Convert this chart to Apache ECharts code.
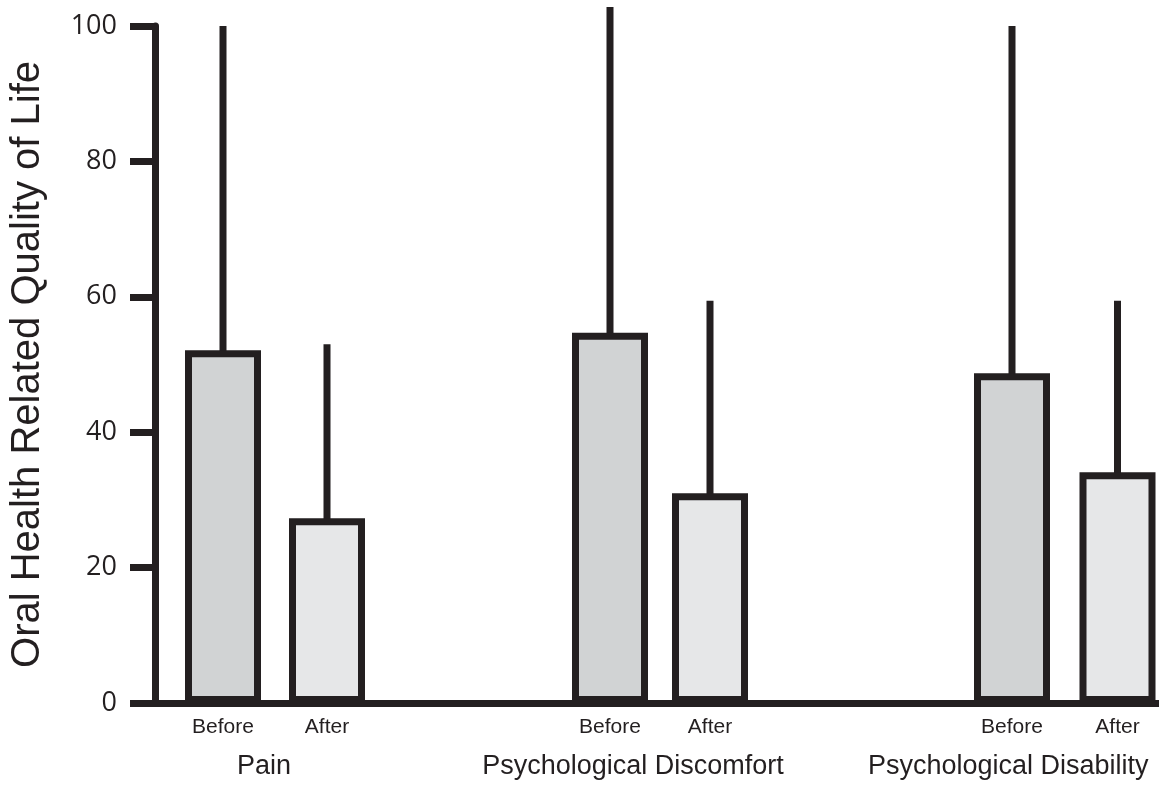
<!DOCTYPE html>
<html>
<head>
<meta charset="utf-8">
<script src="https://cdn.jsdelivr.net/npm/echarts@6/dist/echarts.min.js"></script>
<style>html,body{margin:0;padding:0;background:#fff}#c{width:1159px;height:788px}</style>
</head>
<body>
<div id="c"></div>
<script>
// ---- data ----
const groups = ['Pain', 'Psychological Discomfort', 'Psychological Disability'];
const phases = ['Before', 'After'];
const beforeMean = [52.1, 54.7, 48.7];
const afterMean = [27.3, 31.0, 34.1];
const beforeUpper = [100, 102.8, 100];
const afterUpper = [53.0, 59.4, 59.4];
const yTicks = [0, 20, 40, 60, 80, 100];
const yTitle = 'Oral Health Related Quality of Life';

// ---- styling / layout ----
const ink = '#231f20';
const fillBefore = '#d1d3d4';
const fillAfter = '#e6e7e8';
const font = '"Liberation Sans", Arial, sans-serif';
const TOP = 26, BOTTOM = 85;
// per-group grid boxes (left, width): the two categories sit on the box edges
const boxes = [[223, 104], [610, 100], [1012, 105.5]];
const nameShift = [22, 54, 113];

const grids = [{ left: 155, right: 0, top: TOP, bottom: BOTTOM }];
const xAxes = [{
  gridIndex: 0, type: 'category', data: [''],
  axisLine: { lineStyle: { color: ink, width: 7 } },
  axisTick: { show: false }, axisLabel: { show: false }
}];
const yAxes = [{
  gridIndex: 0, type: 'value', min: 0, max: 100, interval: 20,
  name: yTitle, nameLocation: 'middle', nameRotate: 90, nameGap: 107,
  nameTextStyle: { fontFamily: font, fontSize: 40, color: ink },
  axisLine: { show: true, lineStyle: { color: ink, width: 7 } },
  axisTick: { show: true, length: 25, lineStyle: { color: ink, width: 7 } },
  axisLabel: { margin: 38, fontFamily: '"Open Sans", "Noto Sans", sans-serif', fontSize: 27, color: ink,
    formatter: v => yTicks.includes(v) ? String(v) : '' },
  splitLine: { show: false }
}];
const series = [];

groups.forEach((g, i) => {
  const gi = i + 1;
  grids.push({ left: boxes[i][0], width: boxes[i][1], top: TOP, bottom: BOTTOM });
  xAxes.push({
    gridIndex: gi, type: 'category', data: phases, boundaryGap: false,
    name: g, nameLocation: 'middle', nameGap: 50,
    nameTextStyle: { fontFamily: font, fontSize: 27, color: ink, padding: [0, nameShift[i], 0, 0] },
    axisLine: { show: false }, axisTick: { show: false },
    axisLabel: { margin: 14, fontFamily: font, fontSize: 21, color: ink }
  });
  yAxes.push({ gridIndex: gi, type: 'value', min: 0, max: 100, show: false, splitLine: { show: false } });
  series.push({
    type: 'bar', xAxisIndex: gi, yAxisIndex: gi, barWidth: 76, clip: false,
    data: [
      { value: beforeMean[i], itemStyle: { color: fillBefore } },
      { value: afterMean[i], itemStyle: { color: fillAfter } }
    ],
    itemStyle: { borderColor: ink, borderWidth: 7 },
    emphasis: { disabled: true }, animation: false
  });
  series.push({
    type: 'custom', xAxisIndex: gi, yAxisIndex: gi, clip: false,
    data: [[0, beforeMean[i], beforeUpper[i]], [1, afterMean[i], afterUpper[i]]],
    renderItem: (params, api) => {
      const x = api.value(0);
      const p0 = api.coord([x, api.value(1)]);
      const p1 = api.coord([x, api.value(2)]);
      return { type: 'line', shape: { x1: p0[0], y1: p0[1] + 2, x2: p1[0], y2: p1[1] },
        style: { stroke: ink, lineWidth: 7, lineCap: 'butt' } };
    },
    animation: false
  });
});

const chart = echarts.init(document.getElementById('c'), null, { renderer: 'canvas' });
chart.setOption({
  animation: false,
  grid: grids, xAxis: xAxes, yAxis: yAxes, series: series
});
</script>
</body>
</html>
